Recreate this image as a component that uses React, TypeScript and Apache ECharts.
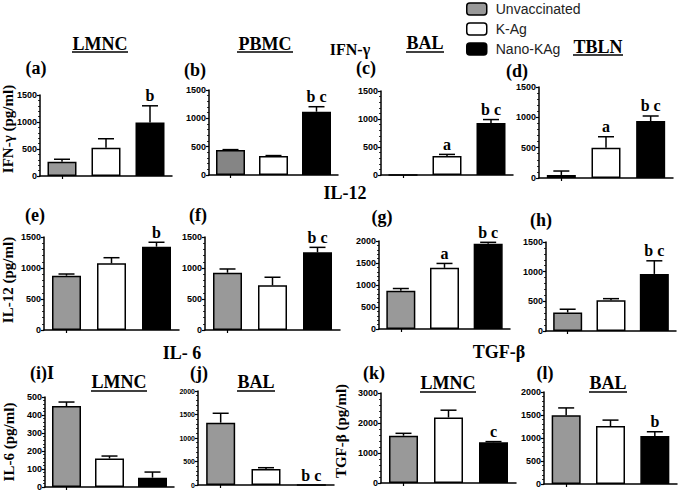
import React, { useEffect, useRef } from "react";
import * as echarts from "echarts";

const groups = ["Unvaccinated", "K-Ag", "Nano-KAg"];
const groupColors = ["#999999", "#ffffff", "#000000"];

// values (mean) and SEM per panel
const ifngLMNC = [265, 523, 990];
const ifngLMNCErr = [45, 167, 310];
const ifngPBMC = [440, 335, 1117];
const ifngPBMCErr = [8, 8, 88];
const ifngBAL = [0, 338, 930];
const ifngBALErr = [0, 30, 60];
const ifngTBLN = [50, 500, 940];
const ifngTBLNErr = [65, 180, 82];
const il12LMNC = [876, 1075, 1344];
const il12LMNCErr = [27, 91, 71];
const il12PBMC = [924, 721, 1253];
const il12PBMCErr = [60, 130, 80];
const il12BAL = [870, 1390, 1940];
const il12BALErr = [50, 100, 30];
const il12TBLN = [312, 517, 962];
const il12TBLNErr = [55, 28, 221];
const il6LMNC = [450, 158, 52];
const il6LMNCErr = [22, 14, 31];
const il6BAL = [1326, 340, 0];
const il6BALErr = [200, 28, 0];
const tgfLMNC = [1576, 2185, 1358];
const tgfLMNCErr = [80, 242, 22];
const tgfBAL = [1497, 1259, 1043];
const tgfBALErr = [157, 130, 93];

// significance letters
const marksA = ["", "", "b"];
const marksB = ["", "", "b c"];
const marksC = ["", "a", "b c"];
const marksD = ["", "a", "b c"];
const marksE = ["", "", "b"];
const marksF = ["", "", "b c"];
const marksG = ["", "a", "b c"];
const marksH = ["", "", "b c"];
const marksI = ["", "", ""];
const marksJ = ["", "", "b c"];
const marksK = ["", "", "c"];
const marksL = ["", "", "b"];

// y axis ticks
const yMax = [1500, 1500, 1500, 1500, 1500, 1500, 2000, 1500, 500, 2000, 3000, 2000];
const yStep = [500, 500, 500, 500, 500, 500, 500, 500, 100, 500, 1000, 500];

const panelValues = [ifngLMNC, ifngPBMC, ifngBAL, ifngTBLN, il12LMNC, il12PBMC, il12BAL, il12TBLN, il6LMNC, il6BAL, tgfLMNC, tgfBAL];
const panelErrors = [ifngLMNCErr, ifngPBMCErr, ifngBALErr, ifngTBLNErr, il12LMNCErr, il12PBMCErr, il12BALErr, il12TBLNErr, il6LMNCErr, il6BALErr, tgfLMNCErr, tgfBALErr];
const panelMarks = [marksA, marksB, marksC, marksD, marksE, marksF, marksG, marksH, marksI, marksJ, marksK, marksL];

// layout (pixels)
const layout = [
  { left: 40, top: 95, width: 132, height: 81 },
  { left: 209, top: 90, width: 129, height: 85 },
  { left: 381, top: 91, width: 132, height: 84 },
  { left: 539, top: 87, width: 134, height: 91 },
  { left: 44, top: 237, width: 135, height: 93 },
  { left: 205, top: 237, width: 135, height: 93 },
  { left: 379, top: 241, width: 131, height: 88 },
  { left: 546, top: 242, width: 130, height: 89 },
  { left: 45, top: 397, width: 129, height: 90 },
  { left: 198, top: 391, width: 136, height: 94 },
  { left: 381, top: 393, width: 135, height: 90 },
  { left: 544, top: 392, width: 133, height: 92 },
];

const SERIF = '"Liberation Serif", "Times New Roman", serif';
const SANS = '"Liberation Sans", Arial, sans-serif';

function txt(text: string, x: number, y: number, size: number, extra: any = {}) {
  return {
    type: "text",
    x,
    y,
    rotation: extra.rotation || 0,
    style: {
      text,
      font: `bold ${size}px ${SERIF}`,
      textAlign: "center",
      textVerticalAlign: "middle",
      fill: "#000",
    },
  };
}

function underlined(text: string, cx: number, cy: number, w: number, uy: number) {
  return [
    txt(text, cx, cy, 18),
    {
      type: "line",
      shape: { x1: cx - w / 2, y1: uy, x2: cx + w / 2, y2: uy },
      style: { stroke: "#000", lineWidth: 1.5 },
    },
  ];
}

export default function App() {
  const ref = useRef<HTMLDivElement>(null);
  useEffect(() => {
    document.body.style.margin = "0";
    const chart = echarts.init(ref.current!, null, { renderer: "svg" });

    const grids: any[] = [];
    const xAxes: any[] = [];
    const yAxes: any[] = [];
    const series: any[] = [];

    panelValues.forEach((vals, p) => {
      const errs = panelErrors[p];
      const marks = panelMarks[p];
      grids.push({ ...layout[p], containLabel: false });
      xAxes.push({
        type: "category",
        gridIndex: p,
        data: groups,
        axisLine: { show: true, lineStyle: { color: "#000", width: 1.5 } },
        axisTick: { show: true, alignWithLabel: true, length: 3, lineStyle: { color: "#000", width: 1.2 } },
        axisLabel: { show: false },
        splitLine: { show: false },
      });
      yAxes.push({
        type: "value",
        gridIndex: p,
        min: 0,
        max: yMax[p],
        interval: yStep[p],
        axisLine: { show: true, lineStyle: { color: "#000", width: 1.5 } },
        axisTick: { show: true, length: 3, lineStyle: { color: "#000", width: 1.2 } },
        minorTick: { show: true, splitNumber: 5, length: 2, lineStyle: { color: "#000", width: 0.8 } },
        axisLabel: {
          fontSize: p === 9 ? 7 : 9,
          fontWeight: "bold",
          fontFamily: SANS,
          color: "#000",
          margin: 3,
          formatter: (v: number) => String(v),
        },
        splitLine: { show: false },
      });
      groups.forEach((g, gi) => {
        series.push({
          type: "bar",
          name: g,
          xAxisIndex: p,
          yAxisIndex: p,
          stack: "p" + p,
          barWidth: 29,
          data: vals.map((v, i) => (i === gi ? v : "-")),
          itemStyle: {
            color: gi === 0 && p === 1 ? "#858585" : groupColors[gi],
            borderColor: "#000",
            borderWidth: 1.5,
          },
          z: 2,
        });
      });
      series.push({
        type: "custom",
        xAxisIndex: p,
        yAxisIndex: p,
        data: vals.map((v, i) => [i, v + errs[i]]),
        encode: { x: 0, y: 1 },
        z: 3,
        silent: true,
        renderItem: (params: any, api: any) => {
          const i = params.dataIndex;
          const v = vals[i];
          const e = errs[i];
          const base = api.coord([i, v]);
          const top = api.coord([i, v + e]);
          const children: any[] = [];
          if (e > 0) {
            children.push({
              type: "line",
              shape: { x1: base[0], y1: base[1], x2: top[0], y2: top[1] },
              style: { stroke: "#000", lineWidth: 1.5 },
            });
            children.push({
              type: "line",
              shape: { x1: top[0] - 8, y1: top[1], x2: top[0] + 8, y2: top[1] },
              style: { stroke: "#000", lineWidth: 1.5 },
            });
          }
          if (marks[i]) {
            children.push({
              type: "text",
              x: top[0],
              y: top[1] - 10,
              style: {
                text: marks[i],
                font: `bold 16px ${SERIF}`,
                textAlign: "center",
                textVerticalAlign: "middle",
                fill: "#000",
              },
            });
          }
          return { type: "group", children };
        },
      });
    });

    const graphic: any[] = [
      ...underlined("LMNC", 100, 44, 56, 52),
      ...underlined("PBMC", 265, 44, 56, 52),
      ...underlined("BAL", 425, 43, 38, 52),
      ...underlined("TBLN", 598, 47, 50, 55),
      ...underlined("LMNC", 119, 382, 56, 391),
      ...underlined("BAL", 256, 382, 38, 391),
      ...underlined("LMNC", 448, 383, 56, 392),
      ...underlined("BAL", 608, 383, 38, 392),
      txt("IFN-γ", 350, 49, 16),
      txt("IL-12", 345, 193, 18),
      txt("IL- 6", 182, 353, 18),
      txt("TGF-β", 499, 352, 18),
      txt("(a)", 36, 68, 18),
      txt("(b)", 195, 70, 18),
      txt("(c)", 366, 68, 18),
      txt("(d)", 517, 71, 18),
      txt("(e)", 35, 215, 18),
      txt("(f)", 198, 215, 18),
      txt("(g)", 382, 217, 18),
      txt("(h)", 541, 220, 18),
      txt("(i)I", 42, 373, 18),
      txt("(j)", 199, 373, 18),
      txt("(k)", 374, 373, 18),
      txt("(l)", 545, 373, 18),
      txt("IFN-γ (pg/ml)", 8, 129, 15, { rotation: Math.PI / 2 }),
      txt("IL-12 (pg/ml)", 8, 280, 15, { rotation: Math.PI / 2 }),
      txt("IL-6 (pg/ml)", 9, 442, 15, { rotation: Math.PI / 2 }),
      txt("TGF-β (pg/ml)", 341, 431, 15, { rotation: Math.PI / 2 }),
    ];

    chart.setOption({
      animation: false,
      backgroundColor: "#fff",
      grid: grids,
      xAxis: xAxes,
      yAxis: yAxes,
      series,
      legend: {
        data: groups,
        orient: "vertical",
        left: 461,
        top: -3,
        itemWidth: 20,
        itemHeight: 12,
        itemGap: 6,
        icon: "roundRect",
        itemStyle: { borderColor: "#000", borderWidth: 1.5 },
        textStyle: { fontSize: 14, fontFamily: SANS, color: "#222", padding: [0, 0, 0, 4] },
      },
      graphic,
    });
    return () => chart.dispose();
  }, []);
  return <div ref={ref} style={{ width: 678, height: 493 }} />;
}
